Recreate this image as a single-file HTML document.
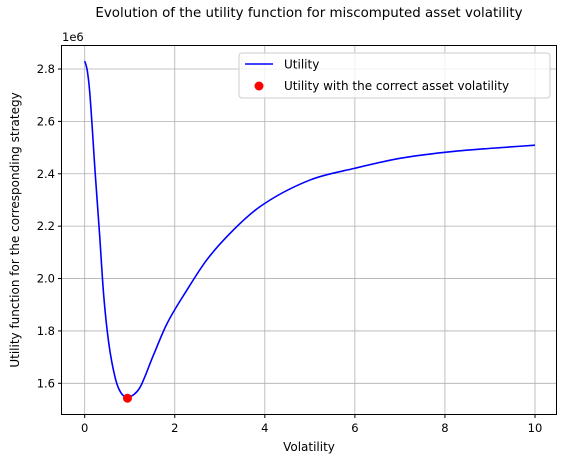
<!DOCTYPE html>
<html><head><meta charset="utf-8"><style>
body{margin:0;background:#fff;font-family:"Liberation Sans","DejaVu Sans",sans-serif;}
svg text{font-family:"DejaVu Sans","Liberation Sans",sans-serif;}
</style></head><body>
<svg id="chart" width="585" height="468" viewBox="0 0 585 468" xmlns="http://www.w3.org/2000/svg">
<g id="grid"></g>
<g id="ticks"></g>
<path id="line" fill="none" stroke="#0000ff" stroke-width="1.6"/>
<circle id="dot" r="4.5" fill="#ff0000"/>
<rect x="61.5" y="45.5" width="495" height="369" fill="none" stroke="#000" stroke-width="1"/>
<text x="309" y="17" font-size="13.4" text-anchor="middle">Evolution of the utility function for miscomputed asset volatility</text>
<text x="62" y="41" font-size="11.5">1e6</text>
<text x="309" y="451" font-size="12" text-anchor="middle">Volatility</text>
<text transform="translate(19,230) rotate(-90)" font-size="12" text-anchor="middle">Utility function for the corresponding strategy</text>
<g>
<rect x="239" y="53" width="311" height="45" rx="3" fill="#fff" fill-opacity="0.8" stroke="#ccc"/>
<line x1="245" y1="64" x2="273" y2="64" stroke="#0000ff" stroke-width="1.6"/>
<text x="284" y="68.5" font-size="12">Utility</text>
<circle cx="259" cy="86" r="4.5" fill="#ff0000"/>
<text x="284" y="90" font-size="12">Utility with the correct asset volatility</text>
</g>
</svg>
<script>
const xs=[0,0.03,0.06,0.11,0.236,0.33,0.42,0.53,0.68,0.8,0.95,1.1,1.23,1.52,1.82,2.27,2.71,3.3,3.89,5,6,7,8,9,10];
const ys=[2.83,2.815,2.791,2.715,2.395,2.17,1.94,1.759,1.619,1.565,1.547,1.558,1.585,1.705,1.825,1.956,2.071,2.185,2.274,2.376,2.421,2.459,2.482,2.497,2.509];
const correctX=[0.95];
const correctY=[1.543];
const xTicks=[0,2,4,6,8,10];
const yTicks=[1.6,1.8,2.0,2.2,2.4,2.6,2.8];
const X=v=>84.7+v*45.03;
const Y=v=>383.3-(v-1.6)*261.9;
const NS="http://www.w3.org/2000/svg";
const grid=document.getElementById('grid'),ticks=document.getElementById('ticks');
function mk(tag,attrs,parent,txt){const e=document.createElementNS(NS,tag);for(const k in attrs)e.setAttribute(k,attrs[k]);if(txt!==undefined)e.textContent=txt;parent.appendChild(e);return e;}
xTicks.forEach(t=>{const x=X(t);
const g=mk('line',{x1:x,x2:x,y1:45.5,y2:414.5,stroke:'#b0b0b0','stroke-width':0.8},grid);


mk('line',{x1:x,x2:x,y1:414.5,y2:418,stroke:'#000'},ticks);
const l=mk('text',{x:x,y:432,'font-size':11.5,'text-anchor':'middle'},ticks,String(t));

});
yTicks.forEach(t=>{const y=Y(t);
const g=mk('line',{x1:61.5,x2:556.5,y1:y,y2:y,stroke:'#b0b0b0','stroke-width':0.8},grid);


mk('line',{x1:58,x2:61.5,y1:y,y2:y,stroke:'#000'},ticks);
const l=mk('text',{x:55,y:y+4,'font-size':11.5,'text-anchor':'end'},ticks,t.toFixed(1));

});
// monotone cubic (Fritsch-Carlson) in pixel space
const P=xs.map((x,i)=>[X(x),Y(ys[i])]);
const n=P.length,dk=[],m=[];
for(let i=0;i<n-1;i++)dk.push((P[i+1][1]-P[i][1])/(P[i+1][0]-P[i][0]));
m[0]=dk[0];m[n-1]=dk[n-2];
for(let i=1;i<n-1;i++){m[i]=(dk[i-1]*dk[i]<=0)?0:(dk[i-1]+dk[i])/2;}
for(let i=0;i<n-1;i++){if(dk[i]===0){m[i]=m[i+1]=0;continue;}const a=m[i]/dk[i],b=m[i+1]/dk[i],s=a*a+b*b;if(s>9){const t=3/Math.sqrt(s);m[i]=t*a*dk[i];m[i+1]=t*b*dk[i];}}
let d='M'+P[0][0]+','+P[0][1];
for(let i=0;i<n-1;i++){const h=(P[i+1][0]-P[i][0])/3;
d+=` C${P[i][0]+h},${P[i][1]+m[i]*h} ${P[i+1][0]-h},${P[i+1][1]-m[i+1]*h} ${P[i+1][0]},${P[i+1][1]}`;}
document.getElementById('line').setAttribute('d',d);
const dot=document.getElementById('dot');dot.setAttribute('cx',X(correctX[0]));dot.setAttribute('cy',Y(correctY[0]));
</script>
</body></html>
